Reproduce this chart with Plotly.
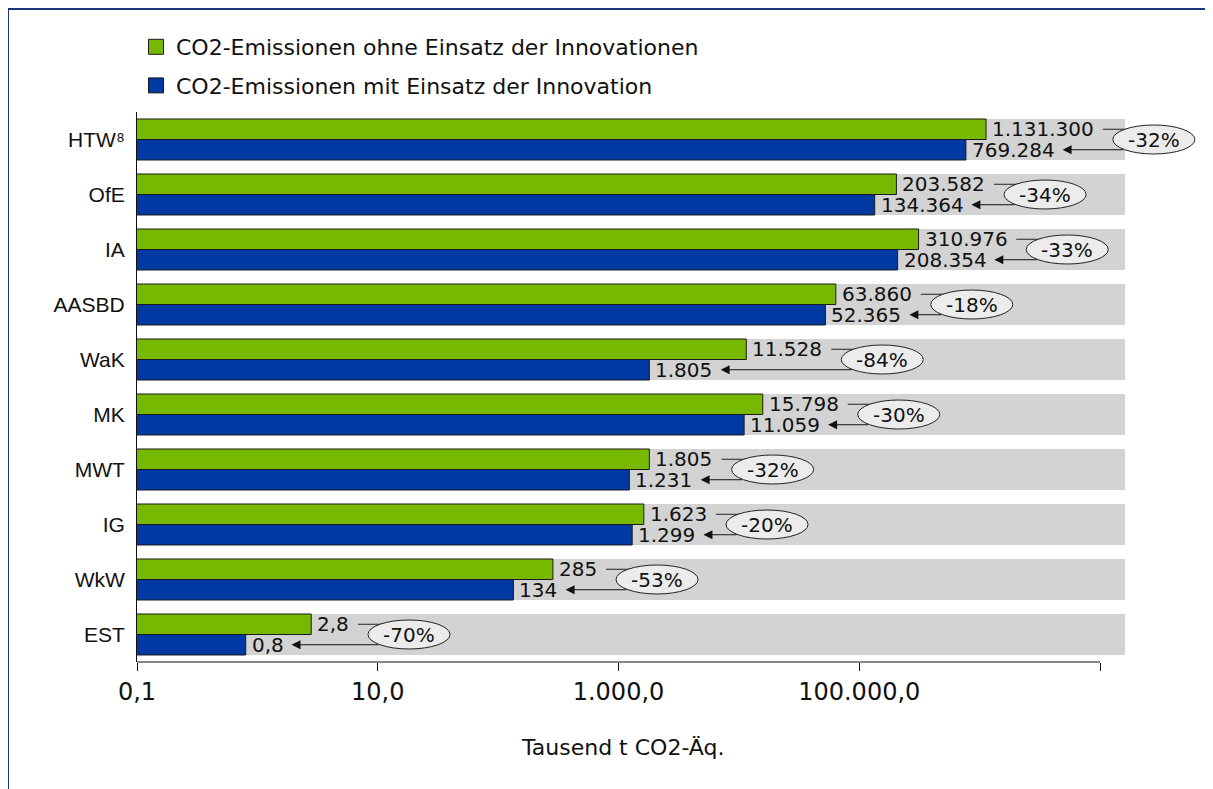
import math
import plotly.graph_objects as go

# ── Data ──────────────────────────────────────────────────────────────────────
CATEGORIES = ["HTW⁸", "OfE", "IA", "AASBD", "WaK", "MK", "MWT", "IG", "WkW", "EST"]
OHNE = [1131300, 203582, 310976, 63860, 11528, 15798, 1805, 1623, 285, 2.8]
MIT = [769284, 134364, 208354, 52365, 1805, 11059, 1231, 1299, 134, 0.8]
REDUCTION = ["-32%", "-34%", "-33%", "-18%", "-84%", "-30%", "-32%", "-20%", "-53%", "-70%"]
SERIES = ["CO2-Emissionen ohne Einsatz der Innovationen",
          "CO2-Emissionen mit Einsatz der Innovation"]
TICK_VALS = [0.1, 10, 1000, 100000, 10000000]
TICK_TEXT = ["0,1", "10,0", "1.000,0", "100.000,0", ""]

# ── Styling / geometry ───────────────────────────────────────────────────────
GREEN = "#77b800"
BLUE = "#0039a3"
BAND = "#d3d3d3"
FRAME = "#1c3578"
EDGE = "#1a1a1a"
FONT = "DejaVu Sans"

W, H = 1213, 789
OFF = 8                      # page body margin of the html file
M_L, M_R, M_T, M_B = 137 - OFF, 16, 112 - OFF, 135
X_LOG_MIN = -1
PX_PER_DEC = (1100 - 137) / 8          # 0,1 .. 10.000.000 over 963 px
X_LOG_MAX = X_LOG_MIN + (W - M_L - M_R) / PX_PER_DEC
BAND_END = 10 ** (X_LOG_MIN + (1125 - 137) / PX_PER_DEC)
PX_PER_CAT = (H - M_T - M_B) / len(CATEGORIES)
HALF = 0.3725          # one bar's thickness in category units
LBL_SIZE = 20
ELL_RX, ELL_RY = 41, 14.5


def de_num(v):
    if v < 10:
        return f"{v:.1f}".replace(".", ",")
    return f"{v:,.0f}".replace(",", ".")


def text_px(s, size):
    w = {".": 0.318, ",": 0.318, "-": 0.361, "%": 1.002}
    return sum(w.get(c, 0.636) for c in s) * size


def shift(v, px):
    # move a value on the log axis by px pixels
    return v * 10 ** (px / PX_PER_DEC)


# page pixel -> paper coordinates
px_x = lambda p: (p - OFF - M_L) / (W - M_L - M_R)
px_y = lambda p: (H - M_B - (p - OFF)) / (H - M_T - M_B)

ys = list(range(len(CATEGORIES)))

fig = go.Figure()
fig.add_bar(
    x=OHNE, y=ys, orientation="h", width=HALF, offset=-HALF,
    marker=dict(color=GREEN, line=dict(color=EDGE, width=1)),
    name=SERIES[0], showlegend=False,
)
fig.add_bar(
    x=MIT, y=ys, orientation="h", width=HALF, offset=0,
    marker=dict(color=BLUE, line=dict(color=EDGE, width=1)),
    name=SERIES[1], showlegend=False,
)
# legend entries with larger square keys
for name, col, grp in zip(SERIES, [GREEN, BLUE], ["a", "b"]):
    fig.add_scatter(x=[None], y=[None], mode="markers", name=name, legendgroup=grp,
                    marker=dict(symbol="square", size=15, color=col,
                                line=dict(color=EDGE, width=1)))

shapes = []
annotations = []

# grey bands behind each bar pair
for i in ys:
    shapes.append(dict(type="rect", xref="x", x0=0.1, x1=BAND_END, yref="y",
                       y0=i - HALF, y1=i + HALF, fillcolor=BAND,
                       line=dict(width=0), layer="below"))

for i, (g, b, red) in enumerate(zip(OHNE, MIT, REDUCTION)):
    g_txt, b_txt = de_num(g), de_num(b)
    wg, wb = text_px(g_txt, LBL_SIZE), text_px(b_txt, LBL_SIZE)
    yg, yb = i - HALF / 2, i + HALF / 2
    cx_px = 6 + wg + 60

    annotations.append(dict(x=math.log10(g), y=yg, text=g_txt, xanchor="left",
                            xshift=4, showarrow=False, font=dict(size=LBL_SIZE)))
    annotations.append(dict(x=math.log10(b), y=yb, text=b_txt, xanchor="left",
                            xshift=4, showarrow=False, font=dict(size=LBL_SIZE)))

    # connector from green label into the ellipse
    shapes.append(dict(type="line", xref="x", yref="y",
                       x0=shift(g, 6 + wg + 9), x1=shift(g, cx_px), y0=yg, y1=yg,
                       line=dict(color="#222", width=1)))
    # ellipse with reduction
    shapes.append(dict(type="circle", xref="x", yref="y",
                       x0=shift(g, cx_px - ELL_RX), x1=shift(g, cx_px + ELL_RX),
                       y0=i - ELL_RY / PX_PER_CAT, y1=i + ELL_RY / PX_PER_CAT,
                       fillcolor="#ececec", line=dict(color="#222", width=1)))
    annotations.append(dict(x=math.log10(shift(g, cx_px)), y=i, text=red,
                            showarrow=False, font=dict(size=LBL_SIZE)))

    # arrow from ellipse back to the blue label
    dy = HALF / 2 * PX_PER_CAT
    edge = ELL_RX * math.sqrt(max(0.0, 1 - (dy / ELL_RY) ** 2))
    annotations.append(dict(
        x=math.log10(shift(b, 6 + wb + 8)), y=yb, text="",
        ax=math.log10(shift(g, cx_px - edge)), ay=yb, axref="x", ayref="y",
        showarrow=True, arrowhead=2, arrowsize=1.8, arrowwidth=1,
        arrowcolor="#111", standoff=0,
    ))

# x axis line stops at 10.000.000
shapes.append(dict(type="line", xref="x", x0=0.1, x1=1e7, yref="y domain",
                   y0=0, y1=0, line=dict(color="#111", width=1)))

# outer frame (top and left)
shapes.append(dict(type="line", xref="paper", yref="paper",
                   x0=px_x(OFF), x1=px_x(W + 20), y0=px_y(OFF + 1), y1=px_y(OFF + 1),
                   line=dict(color=FRAME, width=2)))
shapes.append(dict(type="line", xref="paper", yref="paper",
                   x0=px_x(OFF), x1=px_x(OFF), y0=px_y(OFF), y1=px_y(H + 20),
                   line=dict(color=FRAME, width=2)))

annotations.append(dict(x=px_x(623), y=px_y(747), xref="paper", yref="paper",
                        xanchor="center", yanchor="middle",
                        text="Tausend t CO2-Äq.", showarrow=False,
                        font=dict(size=22)))

fig.update_layout(
    width=W, height=H,
    margin=dict(l=M_L, r=M_R, t=M_T, b=M_B),
    paper_bgcolor="white", plot_bgcolor="white",
    font=dict(family=FONT, color="#111", size=19),
    showlegend=True,
    legend=dict(x=px_x(136), y=px_y(26), xanchor="left", yanchor="top",
                font=dict(size=22), tracegroupgap=7, bgcolor="rgba(0,0,0,0)",
                itemsizing="trace", itemclick=False),
    xaxis=dict(type="log", range=[X_LOG_MIN, X_LOG_MAX], tickvals=TICK_VALS,
               ticktext=TICK_TEXT, ticks="outside", ticklen=8, tickcolor="#111",
               showgrid=False, zeroline=False, showline=False,
               tickfont=dict(size=24), ticklabelstandoff=0),
    yaxis=dict(range=[len(CATEGORIES) - 0.5, -0.5], tickvals=ys,
               ticktext=CATEGORIES, showgrid=False, zeroline=False,
               showline=True, linecolor="#111", linewidth=1, ticks="",
               tickfont=dict(family="Liberation Sans", size=21),
               ticklabelstandoff=7),
    shapes=shapes,
    annotations=annotations,
)

fig.write_html("out.html")
